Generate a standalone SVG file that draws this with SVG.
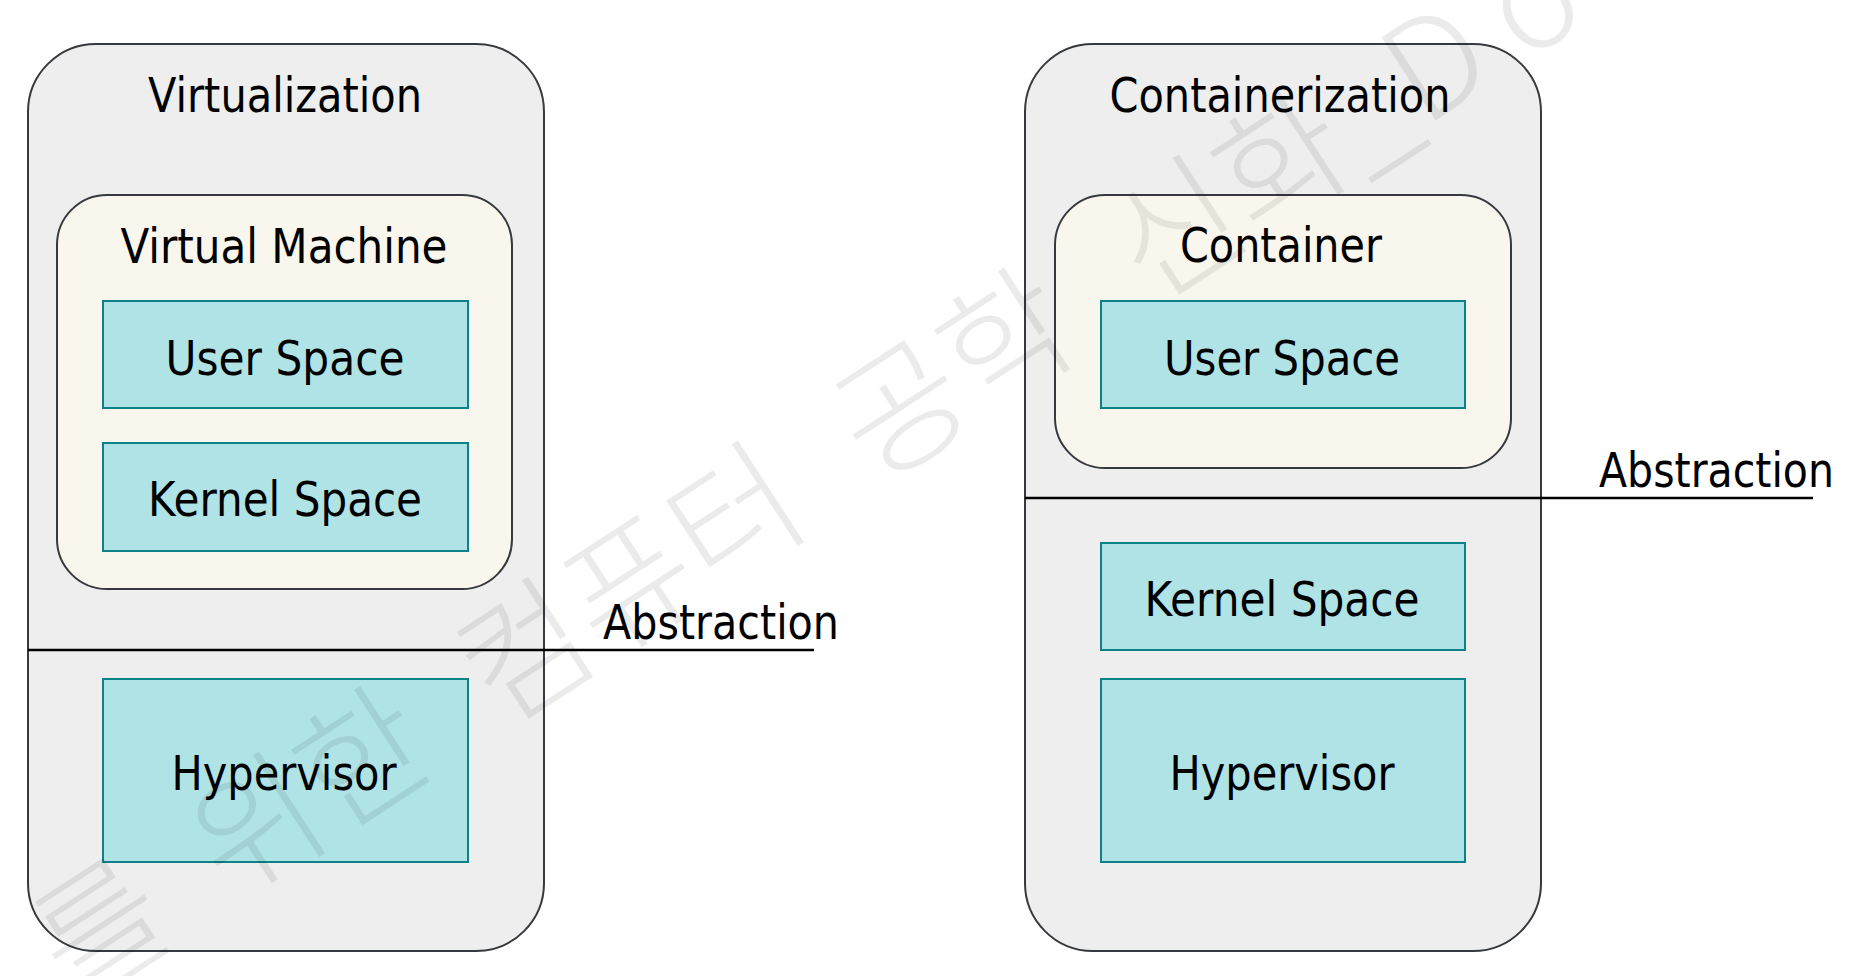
<svg xmlns="http://www.w3.org/2000/svg" width="1850" height="976" viewBox="0 0 1850 976">
<style>
.outer{fill:#eeeeee;stroke:#36393d;stroke-width:2}
.inner{fill:#f9f7ed;stroke:#36393d;stroke-width:2}
.layer{fill:#b0e3e6;stroke:#0e8088;stroke-width:2}
.lbl{font-family:"DejaVu Sans","Noto Sans",sans-serif;font-size:48px;fill:#000;text-anchor:middle}
.abs{font-family:"DejaVu Sans","Noto Sans",sans-serif;font-size:48px;fill:#000}
.line{stroke:#000;stroke-width:2.5;fill:none}
.wm{font-family:"Noto Sans CJK KR","Noto Sans",sans-serif;font-size:136px;font-weight:300;fill:#000;fill-opacity:0.08}
</style>
<rect width="1850" height="976" fill="#ffffff"/>
<g id="virtualization">
<rect class="outer" x="28" y="44" width="516" height="907" rx="68" ry="68"/>
<text class="lbl" x="285" y="112" textLength="274" lengthAdjust="spacingAndGlyphs">Virtualization</text>
</g>
<g id="virtual-machine">
<rect class="inner" x="57" y="195" width="455" height="394" rx="50" ry="50"/>
<text class="lbl" x="284" y="263" textLength="327" lengthAdjust="spacingAndGlyphs">Virtual Machine</text>
</g>
<g id="vm-user-space">
<rect class="layer" x="103" y="301" width="365" height="107"/>
<text class="lbl" x="285" y="375" textLength="239" lengthAdjust="spacingAndGlyphs">User Space</text>
</g>
<g id="vm-kernel-space">
<rect class="layer" x="103" y="443" width="365" height="108"/>
<text class="lbl" x="285" y="516" textLength="274" lengthAdjust="spacingAndGlyphs">Kernel Space</text>
</g>
<g id="vm-hypervisor">
<rect class="layer" x="103" y="679" width="365" height="183"/>
<text class="lbl" x="284" y="790" textLength="225" lengthAdjust="spacingAndGlyphs">Hypervisor</text>
</g>
<g id="containerization">
<rect class="outer" x="1025" y="44" width="516" height="907" rx="68" ry="68"/>
<text class="lbl" x="1280" y="112" textLength="341" lengthAdjust="spacingAndGlyphs">Containerization</text>
</g>
<g id="container">
<rect class="inner" x="1055" y="195" width="456" height="273" rx="50" ry="50"/>
<text class="lbl" x="1281" y="262" textLength="202" lengthAdjust="spacingAndGlyphs">Container</text>
</g>
<g id="ct-user-space">
<rect class="layer" x="1101" y="301" width="364" height="107"/>
<text class="lbl" x="1282" y="375" textLength="236" lengthAdjust="spacingAndGlyphs">User Space</text>
</g>
<g id="ct-kernel-space">
<rect class="layer" x="1101" y="543" width="364" height="107"/>
<text class="lbl" x="1282" y="616" textLength="275" lengthAdjust="spacingAndGlyphs">Kernel Space</text>
</g>
<g id="ct-hypervisor">
<rect class="layer" x="1101" y="679" width="364" height="183"/>
<text class="lbl" x="1282" y="790" textLength="225" lengthAdjust="spacingAndGlyphs">Hypervisor</text>
</g>
<g id="connectors">
<line class="line" x1="28" y1="650" x2="814" y2="650"/>
<line class="line" x1="1025" y1="498" x2="1813" y2="498"/>
</g>
<g id="abstraction-left">
<text class="abs" x="603" y="639" textLength="236" lengthAdjust="spacingAndGlyphs">Abstraction</text>
</g>
<g id="abstraction-right">
<text class="abs" x="1599" y="487" textLength="235" lengthAdjust="spacingAndGlyphs">Abstraction</text>
</g>
<g id="watermark" transform="translate(637,565) rotate(-33)">
<text class="wm" x="-710" y="62">를</text>
<text class="wm" x="-524" y="62">위한</text>
<text class="wm" x="-204" y="62">컴퓨터</text>
<text class="wm" x="244" y="62">공학</text>
<text class="wm" x="572" y="62">신화_D<tspan dx="28">o</tspan></text>
</g>
</svg>
